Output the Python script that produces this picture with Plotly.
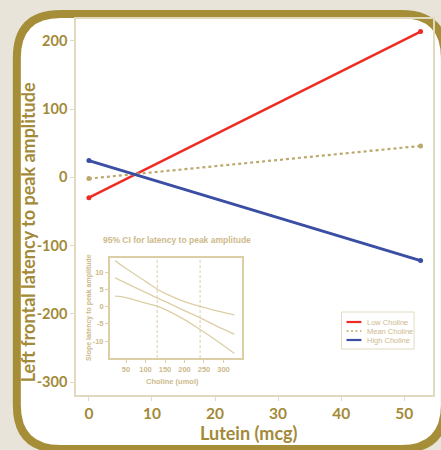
import plotly.graph_objects as go

# ---------------- data ----------------
lutein = [0, 52.6]
series_names = ["Low Choline", "Mean Choline", "High Choline"]
low_choline = [-29.8, 213.6]
mean_choline = [-1.9, 46.0]
high_choline = [24.5, -122.0]

x_ticks = [0, 10, 20, 30, 40, 50]
y_ticks = [-300, -200, -100, 0, 100, 200]
y_tick_labels = ["-300", "-200", "-100", "0", "100", "200"]

# inset: slope of lutein effect vs choline (95% CI)
choline = [22, 50, 100, 130, 150, 200, 235, 280, 328]
ci_upper = [13.3, 11.0, 7.3, 5.0, 3.8, 1.4, 0.2, -1.2, -2.4]
slope_mid = [8.3, 6.8, 4.1, 2.5, 1.5, -1.2, -3.0, -5.5, -8.0]
ci_lower = [3.0, 2.6, 1.0, 0.1, -0.8, -3.8, -6.3, -9.7, -13.6]
jn_bounds = [130, 240]
inset_x_ticks = [50, 100, 150, 200, 250, 300]
inset_y_ticks = [-10, -5, 0, 5, 10]
inset_y_tick_labels = ["-10", "-5", "0", "5", "10"]

# ---------------- style ----------------
W, H = 441, 450
ML, MR, MT, MB = 76, 6, 19, 55
PW, PH = W - ML - MR, H - MT - MB
GOLD = "#A68D38"
GOLD_TXT = "#A38A38"
AX = "#E2DAC0"
INSET_LINE = "#DCCFA6"
INSET_TXT = "#CDBA8B"
colors = ["#EE2B25", "#BCA86C", "#3A4EA4"]
dashes = ["solid", "dot", "solid"]
legend_dashes = ["solid", "2px,2.5px", "solid"]
widths = [2.5, 2.2, 3]


def px(x):
    return (x - ML) / PW


def py(y):
    return (MT + PH - y) / PH


def rounded(l, t, r, b, rad):
    pts = [
        ("M", l + rad, t), ("L", r - rad, t), ("Q", r, t, r, t + rad),
        ("L", r, b - rad), ("Q", r, b, r - rad, b), ("L", l + rad, b),
        ("Q", l, b, l, b - rad), ("L", l, t + rad), ("Q", l, t, l + rad, t),
    ]
    s = ""
    for p in pts:
        cmd = p[0]
        coords = p[1:]
        parts = []
        for i in range(0, len(coords), 2):
            parts.append(f"{px(coords[i]):.5f},{py(coords[i + 1]):.5f}")
        s += cmd + " ".join(parts) + " "
    return s + "Z"


fig = go.Figure()

main_vals = [low_choline, mean_choline, high_choline]
for name, vals, c, d, w in zip(series_names, main_vals, colors, dashes, widths):
    fig.add_trace(go.Scatter(
        x=lutein, y=vals, name=name, mode="lines+markers",
        line=dict(color=c, width=w, dash=d),
        marker=dict(color=c, size=5),
        showlegend=False, xaxis="x", yaxis="y",
    ))

for vals in [ci_upper, slope_mid, ci_lower]:
    fig.add_trace(go.Scatter(
        x=choline, y=vals, mode="lines", line=dict(color=INSET_LINE, width=1.3, shape="spline"),
        showlegend=False, hoverinfo="skip", xaxis="x2", yaxis="y2",
    ))

shapes = [
    dict(type="path", path=rounded(16.5, 14, 447, 449, 44), xref="paper", yref="paper",
         fillcolor="white", line=dict(color=GOLD, width=8), layer="below"),
]
for b in jn_bounds:
    shapes.append(dict(type="line", xref="x2", yref="y2 domain", x0=b, x1=b, y0=0, y1=1,
                       line=dict(color=INSET_LINE, width=1, dash="3px,2px")))

annotations = [
    dict(text="Left frontal latency to peak amplitude", x=px(28), y=py(232), xref="paper", yref="paper",
         textangle=-90, showarrow=False, xanchor="center", yanchor="middle",
         font=dict(family="Lato", size=18, color=GOLD_TXT, weight="bold")),
    dict(text="Lutein (mcg)", x=px(250), y=py(433), xref="paper", yref="paper",
         showarrow=False, xanchor="center", yanchor="middle",
         font=dict(family="Lato", size=18, color=GOLD_TXT, weight="bold")),
    dict(text="95% CI for latency to peak amplitude", x=px(178), y=py(240), xref="paper", yref="paper",
         showarrow=False, xanchor="center", yanchor="middle",
         font=dict(family="Liberation Sans", size=8.5, color=INSET_TXT, weight="bold")),
    dict(text="Slope latency to peak amplitude", x=px(89), y=py(307), xref="paper", yref="paper",
         textangle=-90, showarrow=False, xanchor="center", yanchor="middle",
         font=dict(family="Liberation Sans", size=7, color=INSET_TXT, weight="bold")),
    dict(text="Choline (umol)", x=px(173), y=py(381), xref="paper", yref="paper",
         showarrow=False, xanchor="center", yanchor="middle",
         font=dict(family="Liberation Sans", size=7.5, color=INSET_TXT, weight="bold")),
]

# compact legend box (styled like the original's small key)
shapes.append(dict(type="rect", xref="paper", yref="paper", x0=px(343), x1=px(416), y0=py(349), y1=py(312),
                   fillcolor="white", line=dict(color=AX, width=1)))
for i, (name, c, d) in enumerate(zip(series_names, colors, legend_dashes)):
    yy = 322 + 9 * i
    shapes.append(dict(type="line", xref="paper", yref="paper", x0=px(348), x1=px(363), y0=py(yy), y1=py(yy),
                       line=dict(color=c, width=2.2 if d == "solid" else 1.6, dash=d)))
    annotations.append(dict(text=name, x=px(367), y=py(yy), xref="paper", yref="paper",
                            showarrow=False, xanchor="left", yanchor="middle",
                            font=dict(family="Liberation Sans", size=7.5, color=INSET_TXT)))

main_tickfont = dict(family="Lato", size=14.5, color=GOLD_TXT, weight="bold")
inset_font = dict(family="Liberation Sans", size=7.5, color=INSET_TXT, weight="bold")

fig.update_layout(
    width=W, height=H,
    margin=dict(l=ML, r=MR, t=MT, b=MB),
    paper_bgcolor="#E8E4D9",
    plot_bgcolor="rgba(0,0,0,0)",
    shapes=shapes,
    annotations=annotations,
    showlegend=False,
    xaxis=dict(range=[-2.05, 54.57], tickvals=x_ticks, showgrid=False, zeroline=False,
               showline=True, linecolor=AX, linewidth=1.5, mirror=True,
               ticks="outside", ticklen=4, tickcolor=AX, tickfont=dict(main_tickfont, size=15.5)),
    yaxis=dict(range=[-319, 232], tickvals=y_ticks, ticktext=y_tick_labels, showgrid=False, zeroline=False,
               showline=True, linecolor=AX, linewidth=1.5, mirror=True,
               ticks="outside", ticklen=4, tickcolor=AX, tickfont=main_tickfont),
    xaxis2=dict(domain=[px(110), px(243)], anchor="y2", range=[8.4, 347.7], tickvals=inset_x_ticks,
                showgrid=False, zeroline=False, showline=True, linecolor=INSET_LINE, linewidth=1.5,
                mirror=True, ticks="outside", ticklen=3, tickcolor=INSET_LINE, tickfont=inset_font),
    yaxis2=dict(domain=[py(358), py(258)], anchor="x2", range=[-14.9, 14.06], tickvals=inset_y_ticks,
                ticktext=inset_y_tick_labels,
                showgrid=False, zeroline=False, showline=True, linecolor=INSET_LINE, linewidth=1.5,
                mirror=True, ticks="outside", ticklen=3, tickcolor=INSET_LINE, tickfont=inset_font),
)

fig.write_html("out.html", config={"displayModeBar": False},
               post_script="document.body.style.margin='0px';")
